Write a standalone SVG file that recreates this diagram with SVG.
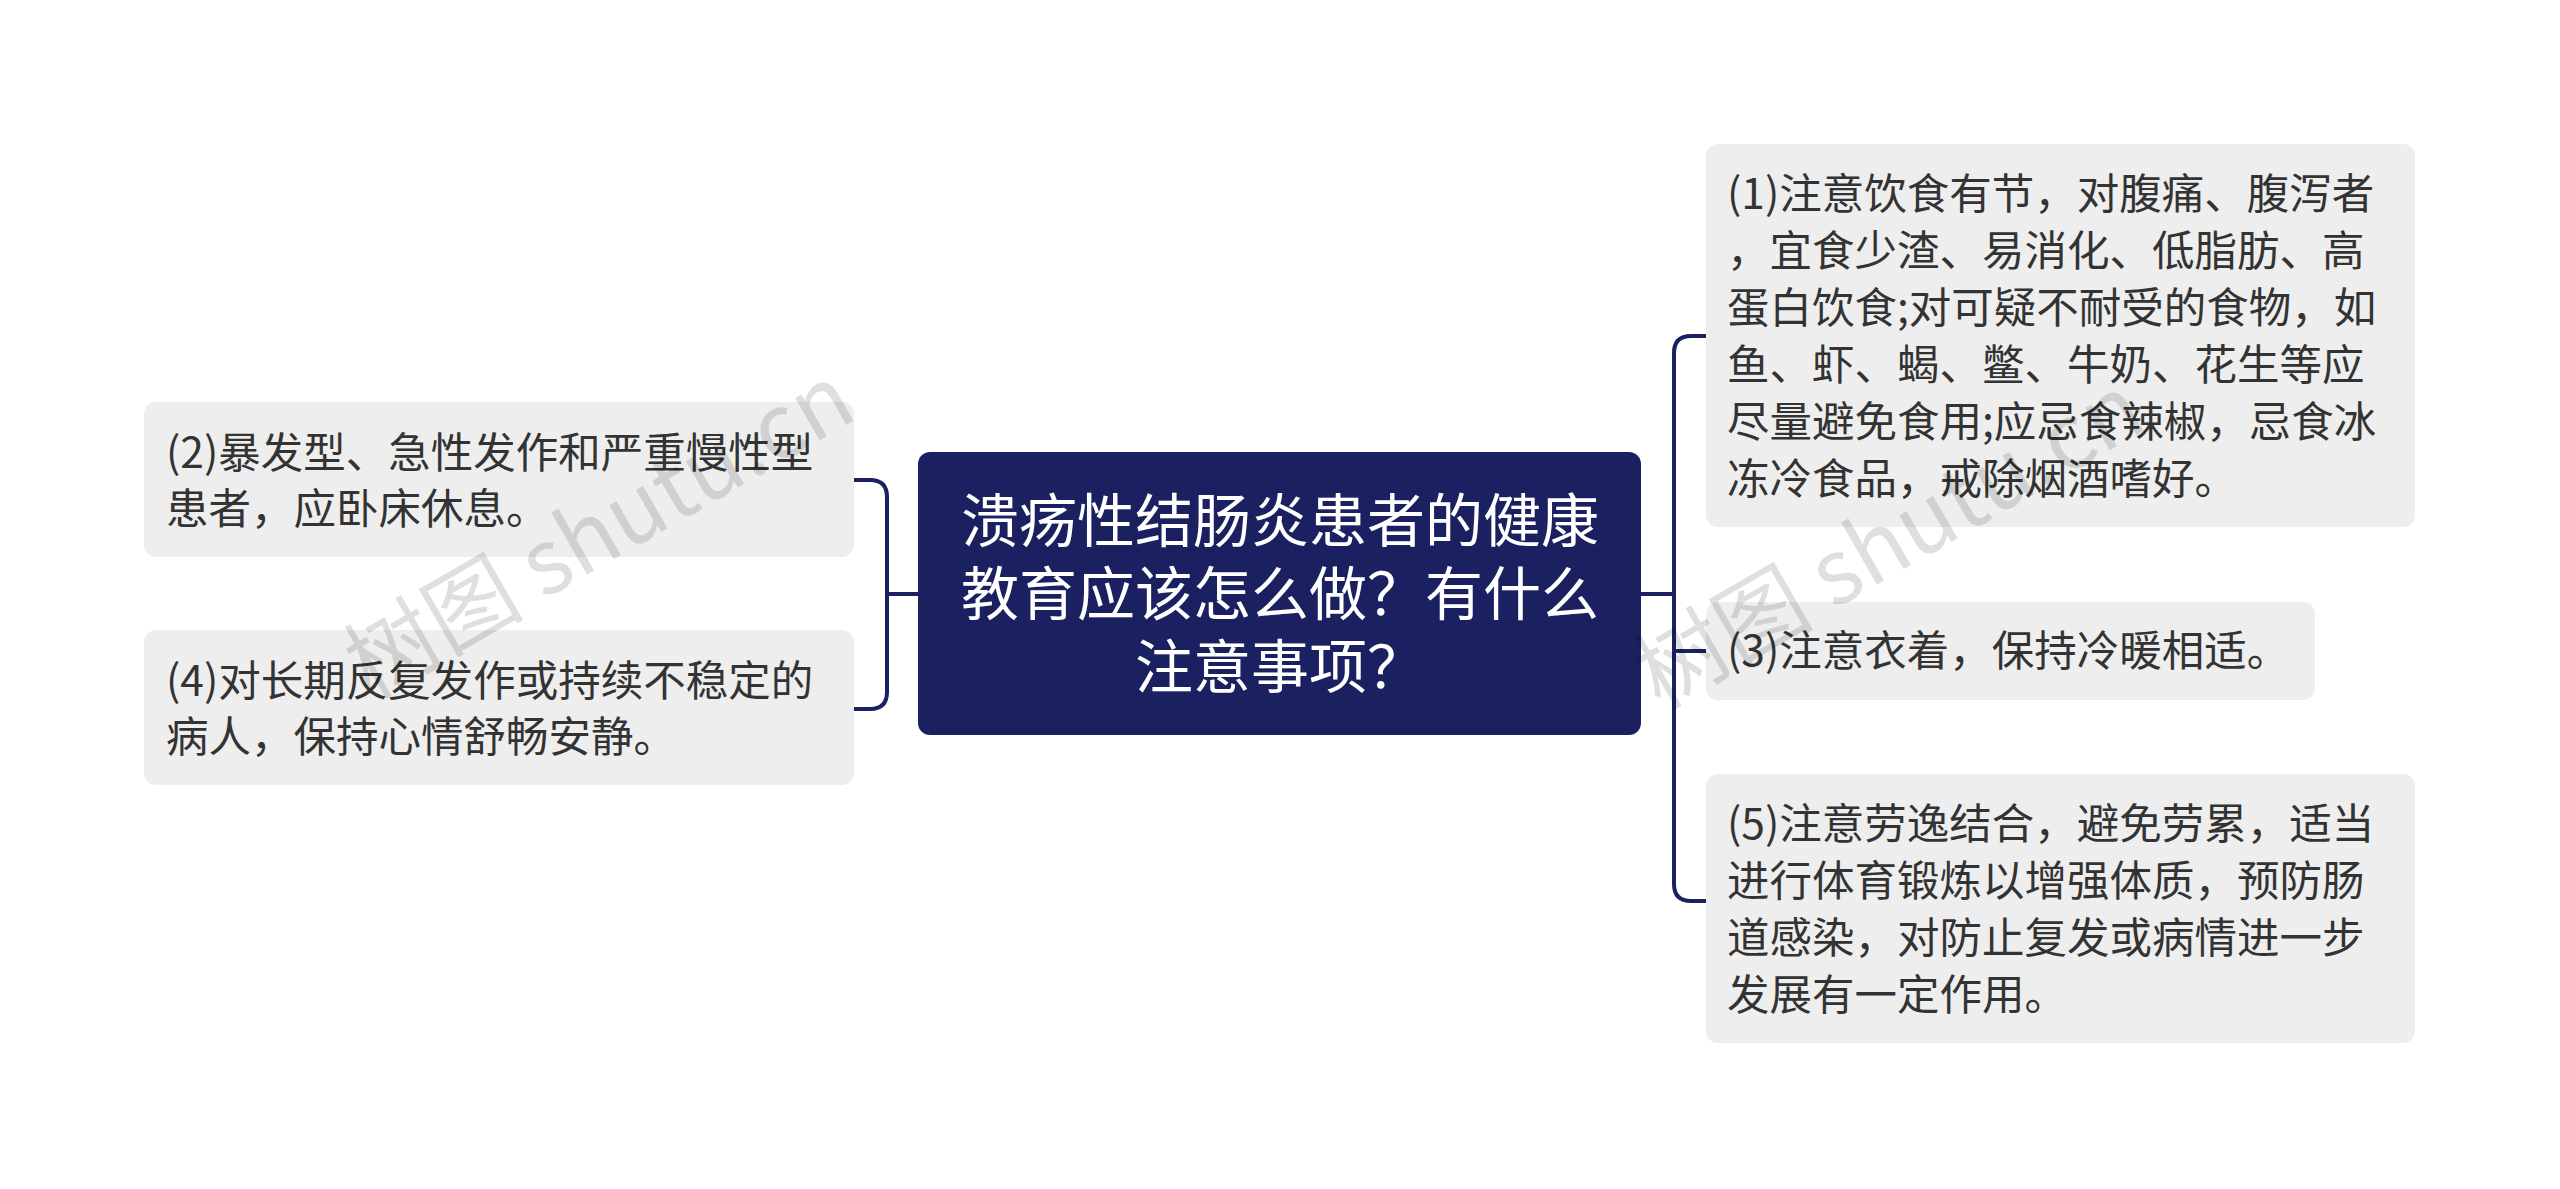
<svg xmlns="http://www.w3.org/2000/svg" width="2560" height="1189" viewBox="0 0 2560 1189">
<style>
.bg{fill:#fff}
.leaf{fill:#eeeeee}
.lt{font-family:"Noto Sans CJK SC","Noto Sans",sans-serif;font-size:42.5px;fill:#333}
.ct{font-family:"Noto Sans CJK SC","Noto Sans",sans-serif;font-size:58px;fill:#fff;text-anchor:middle}
.c{fill:none;stroke:#1a2060;stroke-width:4}
.wm{font-family:"Noto Sans CJK SC","Liberation Serif",serif;font-size:90px;fill:#000;opacity:0.12}
</style>
<rect class="bg" width="2560" height="1189"/>
<g id="connectors">
<path class="c" d="M918 594 H887 M854 480 H870 Q887 480 887 497 V692 Q887 709 870 709 H854"/>
<path class="c" d="M1641 594 H1674 M1706 336 H1691 Q1674 336 1674 353 V884 Q1674 901 1691 901 H1706 M1674 651 H1706"/>
</g>
<g id="center">
<rect x="918" y="452" width="723" height="283" rx="12" fill="#1a2060"/>
<text class="ct" x="1280" y="542">溃疡性结肠炎患者的健康</text>
<text class="ct" x="1280" y="615">教育应该怎么做？有什么</text>
<text class="ct" x="1280" y="688">注意事项？</text>
</g>
<g id="n2">
<rect class="leaf" x="144" y="402" width="710" height="155" rx="12"/>
<text class="lt" x="166" y="468">(2)暴发型、急性发作和严重慢性型</text>
<text class="lt" x="166" y="524">患者，应卧床休息。</text>
</g>
<g id="n4">
<rect class="leaf" x="144" y="630" width="710" height="155" rx="12"/>
<text class="lt" x="166" y="696">(4)对长期反复发作或持续不稳定的</text>
<text class="lt" x="166" y="752">病人，保持心情舒畅安静。</text>
</g>
<g id="n1">
<rect class="leaf" x="1706" y="144" width="709" height="383" rx="12"/>
<text class="lt" x="1727" y="209">(1)注意饮食有节，对腹痛、腹泻者</text>
<text class="lt" x="1727" y="266">，宜食少渣、易消化、低脂肪、高</text>
<text class="lt" x="1727" y="323">蛋白饮食;对可疑不耐受的食物，如</text>
<text class="lt" x="1727" y="380">鱼、虾、蝎、鳖、牛奶、花生等应</text>
<text class="lt" x="1727" y="437">尽量避免食用;应忌食辣椒，忌食冰</text>
<text class="lt" x="1727" y="494">冻冷食品，戒除烟酒嗜好。</text>
</g>
<g id="n3">
<rect class="leaf" x="1706" y="602" width="609" height="98" rx="12"/>
<text class="lt" x="1727" y="666">(3)注意衣着，保持冷暖相适。</text>
</g>
<g id="n5">
<rect class="leaf" x="1706" y="774" width="709" height="269" rx="12"/>
<text class="lt" x="1727" y="839">(5)注意劳逸结合，避免劳累，适当</text>
<text class="lt" x="1727" y="896">进行体育锻炼以增强体质，预防肠</text>
<text class="lt" x="1727" y="953">道感染，对防止复发或病情进一步</text>
<text class="lt" x="1727" y="1010">发展有一定作用。</text>
</g>
<g id="watermarks">
<text class="wm" transform="translate(370 700) rotate(-30)">树图 shutu.cn</text>
<text class="wm" transform="translate(1660 710) rotate(-30)">树图 shutu.cn</text>
</g>
</svg>
